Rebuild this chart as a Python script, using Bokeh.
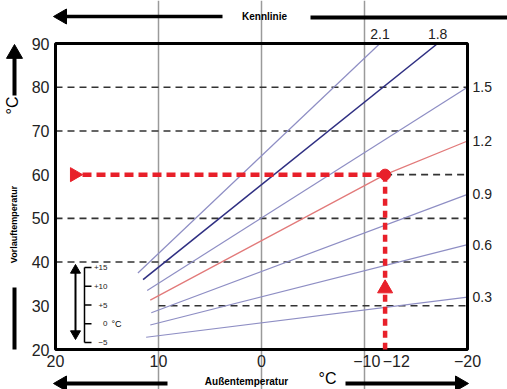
import math
from bokeh.plotting import figure
from bokeh.models import Range1d, FixedTicker, ColumnDataSource
from bokeh.embed import file_html
from bokeh.resources import INLINE
from bokeh.core.properties import value

# ---------------- data ----------------
x_ticks = [20, 10, 0, -10, -12, -20]
x_tick_labels = ["20", "10", "0", "\u00a0\u221210", "\u00a0\u00a0\u00a0\u00a0\u00a0\u221212", "\u221220"]
y_ticks = [20, 30, 40, 50, 60, 70, 80, 90]
grid_x = [10, 0, -10]

dash_y = [80, 70, 60, 50, 40, 30]
dash_x_from = [20, 20, -12, 20, 20, 10]
dash_x_to = [-20, -20, -20, -20, -20, -20]

curve_names = ["2.1", "1.8", "1.5", "1.2", "0.9", "0.6", "0.3"]
curve_x = [[12.0, -11.5], [11.5, -17.1], [11.1, -20.0], [10.8, -12.0, -20.0],
           [10.7, -20.0], [10.8, -20.0], [11.2, -20.0]]
curve_y = [[37.5, 90.0], [36.0, 90.0], [33.5, 80.0], [31.3, 60.0, 67.7],
           [28.4, 55.5], [25.6, 44.0], [22.8, 32.0]]

op_x = -12
op_y = 60

inset_values = [15, 10, 5, 0, -5]
inset_labels = ["+15", "+10", "+5", "0", "\u22125"]

# ---------------- styles ----------------
LIGHT = "#8e8ec4"
DARK = "#2f2f82"
PINK = "#e27a7a"
RED = "#e8202a"
curve_colors = [LIGHT, DARK, LIGHT, PINK, LIGHT, LIGHT, LIGHT]
curve_widths = [1.2, 1.6, 1.2, 1.3, 1.2, 1.2, 1.2]
FONT = "Liberation Sans"
TXT = "#222222"

W, H = 507, 389
# plot box position on the canvas (pixels)
FL, FR, FT, FB = 55, 467, 43, 349
XMIN, XMAX, YMIN, YMAX = 20, -20, 20, 90


def X(px):
    return XMIN + (px - FL) * (XMAX - XMIN) / (FR - FL)


def Y(py):
    return YMIN + (FB - py) * (YMAX - YMIN) / (FB - FT)


p = figure(width=W, height=H, x_range=Range1d(X(0), X(W)), y_range=Range1d(Y(H), Y(0)),
           output_backend="svg", toolbar_location=None, min_border=0)
p.background_fill_color = "white"
p.border_fill_color = "white"
p.outline_line_color = None

for ax in (p.xaxis, p.yaxis):
    ax.axis_line_color = None
    ax.major_tick_line_color = None
    ax.minor_tick_line_color = None
    ax.major_tick_out = 0
    ax.major_tick_in = 0
    ax.minor_tick_out = 0
    ax.minor_tick_in = 0
    ax.major_label_text_font = FONT
    ax.major_label_text_font_size = "16px"
    ax.major_label_text_color = TXT
p.xaxis.fixed_location = YMIN
p.yaxis.fixed_location = XMIN
p.xaxis.ticker = FixedTicker(ticks=x_ticks)
p.xaxis.major_label_overrides = {t: l for t, l in zip(x_ticks, x_tick_labels)}
p.xaxis.major_label_standoff = 3
p.yaxis.ticker = FixedTicker(ticks=y_ticks)
p.yaxis.major_label_standoff = 6

p.xgrid.ticker = FixedTicker(ticks=grid_x)
p.xgrid.bounds = (YMIN, YMAX)
p.xgrid.grid_line_color = "#9a9a9a"
p.xgrid.grid_line_width = 1.5
p.ygrid.grid_line_color = None

# dashed horizontal lines
p.segment(x0=dash_x_from, y0=dash_y, x1=dash_x_to, y1=dash_y,
          line_color="#333333", line_width=1.6, line_dash="7 5")

# heating curves
src = ColumnDataSource(dict(xs=curve_x, ys=curve_y, c=curve_colors, w=curve_widths))
p.multi_line(xs="xs", ys="ys", line_color="c", line_width="w", source=src)

# plot box
p.quad(left=[XMIN], right=[XMAX], bottom=[YMIN], top=[YMAX], fill_color=None,
       line_color="black", line_width=3)

# operating point construction
p.line(x=[X(82), op_x], y=[op_y, op_y], line_color=RED, line_width=4.5, line_dash="9 5")
p.line(x=[op_x, op_x], y=[op_y, YMIN], line_color=RED, line_width=4.5, line_dash="7 5")
p.scatter(x=[X(74)], y=[op_y], marker="triangle", size=14, angle=-math.pi / 2, color=RED)
p.scatter(x=[op_x], y=[Y(288)], marker="triangle", size=15, color=RED)
p.scatter(x=[op_x], y=[op_y], size=11, color=RED)

# curve labels
top_x, top_t, side_y, side_t = [], [], [], []
for name, xs, ys in zip(curve_names, curve_x, curve_y):
    if ys[-1] >= YMAX:
        top_x.append(xs[-1]); top_t.append(name)
    else:
        side_y.append(ys[-1]); side_t.append(name)
p.text(x=top_x, y=[YMAX] * len(top_x), text=top_t, y_offset=-10, text_align="center",
       text_baseline="middle", text_font=value(FONT), text_font_size="14px", text_color=TXT)
p.text(x=[XMAX] * len(side_y), y=side_y, text=side_t, x_offset=5, text_align="left",
       text_baseline="middle", text_font=value(FONT), text_font_size="14px", text_color=TXT)


# ---------------- decorations ----------------
def arrow(x0, y0, x1, y1, lw, hs, both=False):
    L = math.hypot(x1 - x0, y1 - y0)
    ux, uy = (x1 - x0) / L, (y1 - y0) / L
    h = 0.866 * hs
    tips = [(x1, y1, ux, uy)]
    if both:
        tips.append((x0, y0, -ux, -uy))
    sx, sy = (x0 + ux * h * 0.8, y0 + uy * h * 0.8) if both else (x0, y0)
    ex, ey = x1 - ux * h * 0.8, y1 - uy * h * 0.8
    p.segment(x0=[X(sx)], y0=[Y(sy)], x1=[X(ex)], y1=[Y(ey)], line_color="black",
              line_width=lw)
    for tx, ty, vx, vy in tips:
        cx, cy = tx - vx * h * 2 / 3, ty - vy * h * 2 / 3
        p.scatter(x=[X(cx)], y=[Y(cy)], marker="triangle", size=hs,
                  angle=math.atan2(-vx, -vy), color="black")


def bar(x0, y0, x1, y1, lw):
    p.segment(x0=[X(x0)], y0=[Y(y0)], x1=[X(x1)], y1=[Y(y1)], line_color="black", line_width=lw)


def label(px, py, t, size, bold=False, angle=0.0, align="center"):
    p.text(x=[X(px)], y=[Y(py)], text=[t], angle=angle, text_align=align,
           text_baseline="middle", text_font=value(FONT), text_font_size=size,
           text_font_style="bold" if bold else "normal", text_color="black")


# inset scale (outside temperature)
def iy(v):
    return 342 + (v + 5) * (267 - 342) / 20


arrow(75, 339, 75, 264, 2, 10, both=True)
bar(84, iy(-5), 84, iy(15), 1.5)
p.segment(x0=[X(84)] * 5, y0=[Y(iy(v)) for v in inset_values],
          x1=[X(91)] * 5, y1=[Y(iy(v)) for v in inset_values],
          line_color="black", line_width=1.5)
p.text(x=[X(107)] * 5, y=[Y(iy(v)) for v in inset_values], text=inset_labels,
       text_align="right", text_baseline="middle", text_font=value(FONT),
       text_font_size="8px", text_color=TXT)
label(111, iy(0), "\u00b0C", "9px", align="left")

# top
arrow(222, 16, 53, 16, 3.5, 15)
bar(310, 17, 507, 17, 4)
label(264, 16, "Kennlinie", "10px", bold=True)
# left
arrow(14, 95, 14, 44, 4, 16)
label(12, 105, "\u00b0C", "16px", angle=math.pi / 2)
label(13, 224, "Vorlauftemperatur", "9px", bold=True, angle=math.pi / 2)
bar(14, 287, 14, 349, 4)
# bottom
arrow(167, 383, 53, 383, 4, 15)
label(246, 381, "Au\u00dfentemperatur", "10px", bold=True)
label(327, 378, "\u00b0C", "16px")
arrow(345, 383, 468, 383, 4, 15)

open("out.html", "w").write(file_html(p, INLINE))
